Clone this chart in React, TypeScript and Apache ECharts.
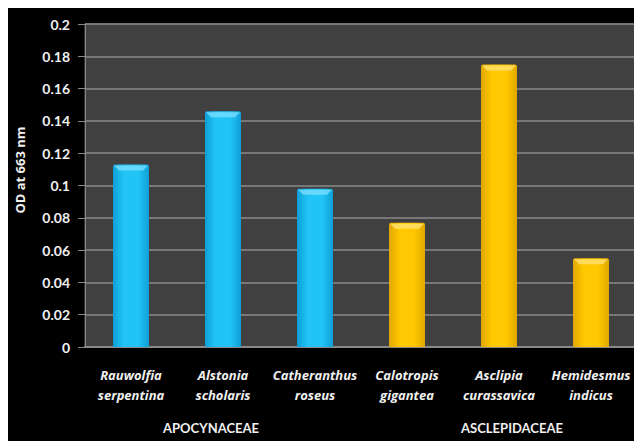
import React, { useEffect, useRef } from "react";
import * as echarts from "echarts";

const categories = [
  "Rauwolfia\nserpentina",
  "Alstonia\nscholaris",
  "Catheranthus\nroseus",
  "Calotropis\ngigantea",
  "Asclipia\ncurassavica",
  "Hemidesmus\nindicus",
];
const odValues = [0.113, 0.146, 0.098, 0.077, 0.175, 0.055];
const familyOfBar = [0, 0, 0, 1, 1, 1];
const families = ["APOCYNACEAE", "ASCLEPIDACEAE"];
const yTicks = { min: 0, max: 0.2, interval: 0.02 };

const familyColors = [
  ["#0f9fd6", "#22c4f7", "#0f9fd6", "#7fe0ff"],
  ["#e0a800", "#ffc800", "#e0a800", "#ffe47a"],
];

export default function App() {
  const ref = useRef<HTMLDivElement>(null);
  useEffect(() => {
    if (!ref.current) return;
    const chart = echarts.init(ref.current, null, { renderer: "svg" });
    const font = "Lato, 'Open Sans', sans-serif";
    const font2 = "'Open Sans', Lato, sans-serif";
    const barW = 36;
    chart.setOption({
      animation: false,
      backgroundColor: "#000",
      grid: {
        left: 77,
        top: 16,
        right: 5,
        bottom: 94,
        show: true,
        backgroundColor: "#404040",
        borderColor: "#5a5a5a",
        borderWidth: 1,
      },
      xAxis: {
        type: "category",
        data: categories,
        axisLine: { show: true, lineStyle: { color: "#8a8a8a", width: 2 } },
        axisTick: { show: false },
        axisLabel: {
          color: "#f0f0f0",
          fontFamily: font2,
          fontStyle: "italic",
          fontWeight: "bold",
          fontSize: 13,
          lineHeight: 20,
          margin: 18,
          interval: 0,
        },
      },
      yAxis: {
        type: "value",
        min: yTicks.min,
        max: yTicks.max,
        interval: yTicks.interval,
        axisLine: { show: true, lineStyle: { color: "#8a8a8a", width: 1 } },
        axisTick: { show: true, length: 7, lineStyle: { color: "#8a8a8a" } },
        splitLine: { show: true, lineStyle: { color: "#8a8a8a", width: 1.5 } },
        axisLabel: {
          color: "#f0f0f0",
          fontFamily: font,
          fontWeight: "bold",
          fontSize: 14,
          margin: 15,
          formatter: (v: number) => String(parseFloat(v.toFixed(2))),
        },
      },
      series: [
        {
          type: "bar",
          barWidth: barW,
          data: odValues.map((v, i) => {
            const c = familyColors[familyOfBar[i]];
            return {
              value: v,
              itemStyle: {
                color: new echarts.graphic.LinearGradient(0, 0, 1, 0, [
                  { offset: 0, color: c[0] },
                  { offset: 0.3, color: c[1] },
                  { offset: 0.7, color: c[1] },
                  { offset: 1, color: c[0] },
                ]),
                borderRadius: [2, 2, 0, 0],
              },
            };
          }),
        },
        {
          type: "custom",
          silent: true,
          z: 5,
          data: odValues.map((v, i) => [i, v]),
          renderItem: (params: any, api: any) => {
            const idx = api.value(0);
            const top = api.coord([idx, api.value(1)]);
            const c = familyColors[familyOfBar[params.dataIndex]];
            const h = barW / 2;
            return {
              type: "polygon",
              shape: {
                points: [
                  [top[0] - h + 1, top[1] + 1],
                  [top[0] + h - 1, top[1] + 1],
                  [top[0] + h - 6, top[1] + 6],
                  [top[0] - h + 6, top[1] + 6],
                ],
              },
              style: { fill: c[3], opacity: 0.75 },
            };
          },
        },
      ],
      graphic: [
        {
          type: "text",
          x: 12,
          y: 162,
          rotation: Math.PI / 2,
          style: {
            text: "OD at 663 nm",
            fill: "#f0f0f0",
            font: `bold 13px ${font2}`,
            align: "center",
            verticalAlign: "middle",
          },
        },
        {
          type: "text",
          x: 203,
          y: 420,
          style: {
            text: families[0],
            fill: "#f0f0f0",
            font: `bold 13px ${font}`,
            align: "center",
            verticalAlign: "middle",
          },
        },
        {
          type: "text",
          x: 504,
          y: 420,
          style: {
            text: families[1],
            fill: "#f0f0f0",
            font: `bold 13px ${font}`,
            align: "center",
            verticalAlign: "middle",
          },
        },
      ],
    });
    return () => chart.dispose();
  }, []);
  return <div ref={ref} style={{ width: 634, height: 433 }} />;
}
